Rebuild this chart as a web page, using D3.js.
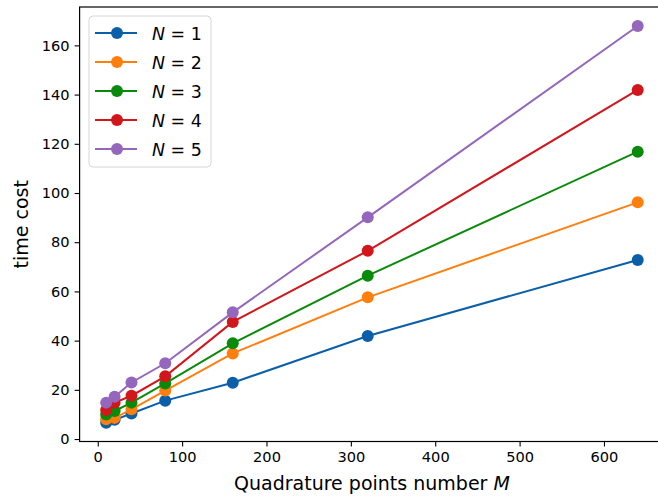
<!DOCTYPE html>
<html>
<head>
<meta charset="utf-8">
<script src="https://cdn.jsdelivr.net/npm/d3@7"></script>
<style>
  body { margin: 0; background: #fff; }
  svg { display: block; font-family: "DejaVu Sans", sans-serif; }
</style>
</head>
<body>
<svg id="canvas"></svg>
<script>
// quadrature points M
let mValues = [10, 20, 40, 80, 160, 320, 640];

// time cost per N
let costN1 = [6.6, 7.8, 10.4, 15.6, 22.9, 41.9, 72.8];
let costN2 = [8.0, 8.6, 12.1, 19.7, 34.8, 57.6, 96.2];
let costN3 = [10.0, 11.4, 14.8, 22.6, 38.9, 66.4, 116.8];
let costN4 = [11.8, 14.8, 17.6, 25.5, 47.6, 76.5, 141.9];
let costN5 = [14.8, 17.2, 23.0, 30.8, 51.5, 90.1, 167.9];

let seriesNames = ["1", "2", "3", "4", "5"];
let seriesColors = ["#0b5fa8", "#ff7f0e", "#0a8a0a", "#d1171c", "#9467bd"];

let xTicks = [0, 100, 200, 300, 400, 500, 600];
let yTicks = [0, 20, 40, 60, 80, 100, 120, 140, 160];

let width = 658,
  height = 502;

let canvas = d3.select("#canvas").attr("width", width).attr("height", height);

let xScale = d3.scaleLinear().domain([-21.5, 671.5]).range([79.6, 664.3]);
let yScale = d3.scaleLinear().domain([-1, 175.6]).range([441.5, 7]);

let allSeries = [costN1, costN2, costN3, costN4, costN5].map((vals, i) => {
  return {
    name: seriesNames[i],
    color: seriesColors[i],
    points: vals.map((v, j) => ({ m: mValues[j], cost: v })),
  };
});

let drawAxes = () => {
  let xAxis = d3
    .axisBottom(xScale)
    .tickValues(xTicks)
    .tickSize(5)
    .tickPadding(5)
    .tickFormat(d3.format("d"));
  let yAxis = d3
    .axisLeft(yScale)
    .tickValues(yTicks)
    .tickSize(5)
    .tickPadding(5)
    .tickFormat(d3.format("d"));

  let gx = canvas
    .append("g")
    .attr("transform", "translate(0," + yScale.range()[0] + ")")
    .call(xAxis);
  let gy = canvas
    .append("g")
    .attr("transform", "translate(" + xScale.range()[0] + ",0)")
    .call(yAxis);

  [gx, gy].forEach((g) => {
    g.select(".domain").remove();
    g.selectAll(".tick line").attr("stroke", "#000").attr("stroke-width", 1.1);
    g.selectAll(".tick text")
      .attr("fill", "#000")
      .style("font-size", "14.6px")
      .style("font-family", "DejaVu Sans");
  });

  // frame (spines)
  let x0 = xScale.range()[0],
    x1 = xScale.range()[1],
    y0 = yScale.range()[0],
    y1 = yScale.range()[1];
  canvas
    .append("rect")
    .attr("x", x0)
    .attr("y", y1)
    .attr("width", x1 - x0)
    .attr("height", y0 - y1)
    .attr("fill", "none")
    .attr("stroke", "#000")
    .attr("stroke-width", 1.2);

  canvas
    .append("text")
    .attr("x", (x0 + x1) / 2)
    .attr("y", 490)
    .attr("text-anchor", "middle")
    .style("font-size", "19px")
    .text("Quadrature points number ")
    .append("tspan")
    .style("font-style", "italic")
    .text("M");

  canvas
    .append("text")
    .attr("transform", "translate(28," + (y0 + y1) / 2 + ") rotate(-90)")
    .attr("text-anchor", "middle")
    .style("font-size", "19px")
    .text("time cost");
};

let drawLines = () => {
  let line = d3
    .line()
    .x((d) => xScale(d.m))
    .y((d) => yScale(d.cost));

  let groups = canvas
    .selectAll(".series")
    .data(allSeries)
    .enter()
    .append("g")
    .attr("class", "series");

  groups
    .append("path")
    .attr("d", (s) => line(s.points))
    .attr("fill", "none")
    .attr("stroke", (s) => s.color)
    .attr("stroke-width", 2);

  groups
    .selectAll("circle")
    .data((s) => s.points.map((p) => ({ ...p, color: s.color })))
    .enter()
    .append("circle")
    .attr("cx", (d) => xScale(d.m))
    .attr("cy", (d) => yScale(d.cost))
    .attr("r", 6)
    .attr("fill", (d) => d.color);
};

let drawLegend = () => {
  let legend = canvas.append("g").attr("transform", "translate(89,16)");
  legend
    .append("rect")
    .attr("width", 122)
    .attr("height", 151)
    .attr("rx", 4)
    .attr("fill", "#fff")
    .attr("fill-opacity", 0.8)
    .attr("stroke", "#d6d6d6")
    .attr("stroke-width", 1);

  let items = legend
    .selectAll(".item")
    .data(allSeries)
    .enter()
    .append("g")
    .attr("transform", (d, i) => "translate(0," + (17 + i * 29) + ")");

  items
    .append("line")
    .attr("x1", 6)
    .attr("x2", 48)
    .attr("stroke", (d) => d.color)
    .attr("stroke-width", 2);
  items
    .append("circle")
    .attr("cx", 28)
    .attr("r", 6)
    .attr("fill", (d) => d.color);

  let txt = items
    .append("text")
    .attr("x", 63)
    .attr("y", 6.5)
    .style("font-size", "17.4px");
  txt.append("tspan").style("font-style", "italic").text("N");
  txt.append("tspan").text(" = ");
  txt.append("tspan").text((d) => d.name);
};

drawAxes();
drawLines();
drawLegend();
</script>
</body>
</html>
